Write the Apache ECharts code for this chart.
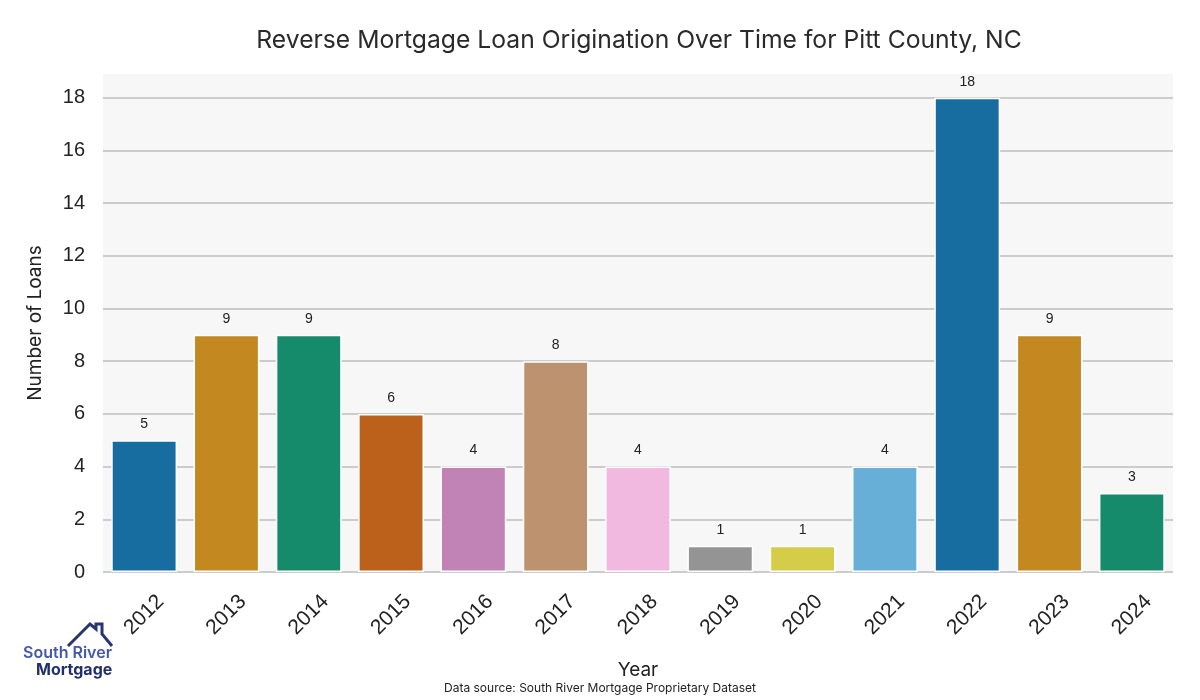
<!DOCTYPE html>
<html><head><meta charset="utf-8">
<script src="https://cdn.jsdelivr.net/npm/echarts@6/dist/echarts.min.js"></script>
<style>html,body{margin:0;padding:0;background:#fff}#c{width:1200px;height:700px}</style>
</head><body><div id="c"></div>
<script>
const years = ['2012','2013','2014','2015','2016','2017','2018','2019','2020','2021','2022','2023','2024'];
const loans = [5, 9, 9, 6, 4, 8, 4, 1, 1, 4, 18, 9, 3];
const barColors = ['#176da0','#c38820','#168b6b','#bb611b','#c182b5','#bd926e','#f1b9e0','#949494','#d5cd4a','#68afd7','#176da0','#c38820','#168b6b'];

const chart = echarts.init(document.getElementById('c'));
const geo = 'Inter, "Noto Sans", sans-serif';
const arial = '"Liberation Sans", Arial, sans-serif';
chart.setOption({
  animation: false,
  title: {
    text: 'Reverse Mortgage Loan Origination Over Time for Pitt County, NC',
    left: 634, top: 23, textAlign: 'center',
    textStyle: {fontFamily: geo, fontSize: 24.7, fontWeight: 'normal', color: '#2a2a2a'}
  },
  grid: {left: 103, right: 27, top: 74, bottom: 128, show: false},
  xAxis: {
    type: 'category', data: years,
    name: 'Year', nameLocation: 'middle', nameGap: 89,
    nameTextStyle: {fontFamily: geo, fontSize: 19, color: '#222'},
    axisLine: {show: false, lineStyle: {color: '#0000ff'}}, axisTick: {show: false, lineStyle: {color: '#00ff00'}}, splitLine: {show: false, lineStyle: {color: '#ff00ff'}}, splitArea: {show: false},
    axisLabel: {rotate: 45, align: 'center', verticalAlign: 'middle', fontFamily: arial, fontSize: 21, color: '#222', margin: 43}
  },
  yAxis: {
    type: 'value', min: 0, max: 18.9, interval: 2,
    name: 'Number of Loans', nameLocation: 'middle', nameGap: 58,
    nameTextStyle: {fontFamily: geo, fontSize: 19, color: '#222'},
    axisLine: {show: false, lineStyle: {color: '#ff0000'}}, axisTick: {show: false, lineStyle: {color: '#ffaa00'}}, minorSplitLine: {show: false},
    axisLabel: {showMaxLabel: false, fontFamily: arial, fontSize: 20, color: '#222', margin: 18},
    splitArea: {show: true, areaStyle: {color: ['#f7f7f7']}},
    splitLine: {showMaxLine: false, lineStyle: {color: '#cccccc', width: 2}}
  },
  series: [{
    type: 'bar', barWidth: '80%',
    data: loans.map((v, i) => ({value: v, itemStyle: {color: barColors[i]}})),
    itemStyle: {borderColor: '#ffffff', borderWidth: 1.5},
    label: {show: true, position: 'top', distance: 9, fontFamily: arial, fontSize: 14, color: '#222'}
  }],
  graphic: [
    {type: 'text', left: 'center', top: 682, style: {text: 'Data source: South River Mortgage Proprietary Dataset', font: '12px Inter, "Noto Sans", sans-serif', fill: '#222'}},
    {type: 'polyline', shape: {points: [[68,646],[90,624],[96,629],[96,624],[102,624],[102,634],[112,646]]}, style: {stroke: '#2a3570', lineWidth: 3, fill: null}},
    {type: 'text', left: 23, top: 645, style: {text: 'South River', font: '600 16px Inter, "Noto Sans", sans-serif', fill: '#4358a8'}},
    {type: 'text', left: 36, top: 662, style: {text: 'Mortgage', font: 'bold 16px Inter, "Noto Sans", sans-serif', fill: '#22306a'}}
  ]
});
</script></body></html>
